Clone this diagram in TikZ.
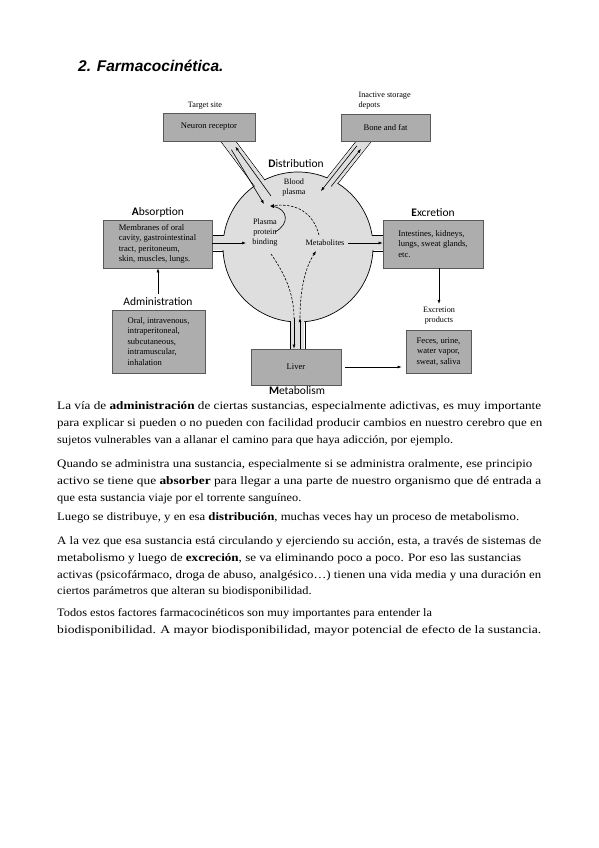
\documentclass[tikz,border=0pt]{standalone}
\usepackage{graphicx}
\usepackage{fontspec}
\setmainfont{Liberation Serif}
\newfontfamily\labelfont{Carlito}
\newfontfamily\headfont{Liberation Sans}
\newfontfamily\bodyfont{Liberation Serif}
\usetikzlibrary{arrows.meta, positioning, calc}
\definecolor{boxgray}{gray}{0.68}
\definecolor{discgray}{gray}{0.87}
\definecolor{edgegray}{gray}{0.35}

\begin{document}
\begin{tikzpicture}[
    x=1pt, y=-1pt,
    >={Latex[length=4pt, width=3pt]},
    organ/.style={draw=edgegray, fill=boxgray, line width=0.7pt, inner sep=0pt, align=left, font=\fontsize{8.6}{10.5}\selectfont},
    stage/.style={font=\labelfont\fontsize{11.5}{13}\selectfont},
    note/.style={font=\fontsize{8.2}{10}\selectfont, align=center},
    wall/.style={draw=black, line width=0.6pt},
    flow/.style={->, line width=0.6pt},
    route/.style={->, line width=0.6pt, dash pattern=on 2.5pt off 1.5pt},
    trail/.style={line width=0.6pt, dash pattern=on 2.5pt off 1.5pt},
    para/.style={anchor=base west, inner sep=0pt, font=\bodyfont\fontsize{11.4}{17}\selectfont},
]
\useasboundingbox (0,0) rectangle (599,848);

\node[anchor=base west, inner sep=0pt, font=\headfont\bfseries\itshape\fontsize{15.5}{18}\selectfont] (title) at (78,72) {2. Farmacocinética.};

\draw[wall] (218.4,138.2) -- (259.2,192.6);
\draw[wall] (228,131) -- (268.8,185.4);
\draw[wall] (364.3,131.0) -- (322.0,184.3);
\draw[wall] (373.7,138.4) -- (331.4,191.7);
\draw[wall] (200,235) -- (240,235) (200,251) -- (240,251);
\draw[wall] (356,235) -- (392,235) (356,251) -- (392,251);
\draw[wall] (290,300) -- (290,355) (305,300) -- (305,355);

\node[circle, draw=black, fill=discgray, line width=0.7pt, minimum size=150pt, inner sep=0pt] (plasma) at (298,247) {};

\fill[discgray] (227.6,131.3) -- (267.2,184.1) -- (258.4,190.7) -- (218.8,137.9) -- cycle;
\fill[discgray] (373.3,138.2) -- (333.5,188.2) -- (324.9,181.4) -- (364.7,131.3) -- cycle;
\fill[discgray] (200,235.6) rectangle (232,250.4);
\fill[discgray] (364,235.6) rectangle (392,250.4);
\fill[discgray] (290.6,314) rectangle (304.4,355);

\node[stage] (distlbl) at (296,164) {\textbf{D}istribution};
\node[note] (blood) at (294,188) {Blood\\plasma};
\node[note] (binding) at (265,233) {Plasma\\protein\\binding};
\node[note] (metab) at (325,243) {Metabolites};

\node[organ, minimum width=92pt, minimum height=28pt] (neuron) at (209,127) {Neuron receptor};
\node[organ, minimum width=89pt, minimum height=27pt] (bone) at (385.5,127.5) {Bone and fat};
\node[organ, minimum width=109pt, minimum height=48pt] (absorb) at (157.5,244) {Membranes of oral\\cavity, gastrointestinal\\tract, peritoneum,\\skin, muscles, lungs.};
\node[organ, minimum width=100pt, minimum height=48pt] (excrete) at (433,244) {Intestines, kidneys,\\lungs, sweat glands,\\etc.};
\node[organ, minimum width=93pt, minimum height=63pt] (admin) at (158.5,341.5) {Oral, intravenous,\\intraperitoneal,\\subcutaneous,\\intramuscular,\\inhalation};
\node[organ, align=center, minimum width=65pt, minimum height=43pt] (feces) at (438.5,351.5) {Feces, urine,\\water vapor,\\sweat, saliva};
\node[organ, minimum width=90pt, minimum height=36pt] (liver) at (296,367) {Liver};

\node[note] (targetlbl) at (205,106) {Target site};
\node[note, align=left, anchor=west] (depotlbl) at (355,101) {Inactive storage\\depots};
\node[stage] (abslbl) at (158,212) {\textbf{A}bsorption};
\node[stage] (exclbl) at (433,213) {\textbf{E}xcretion};
\node[stage] (adminlbl) at (158,302) {Administration};
\node[note] (prodlbl) at (439,316) {Excretion\\products};
\node[stage] (metablbl) at (297,391) {\textbf{M}etabolism};

\coordinate (absin) at (246,243);
\coordinate (nrfoot) at (231.4,149.7);
\coordinate (nrin) at (264,204);
\coordinate (nrout) at (271,196);
\coordinate (nrhead) at (235.4,146.7);
\coordinate (bnfoot) at (357,145.7);
\coordinate (bnin) at (320.9,191.1);
\coordinate (bnout) at (331.2,186.4);
\coordinate (bnhead) at (361,148.9);
\coordinate (freed) at (270,206);
\coordinate (dnjoin) at (294,318);
\coordinate (upjoin) at (300,318);

\draw[flow] (absorb.east |- absin) -- (absin);
\draw[flow] (metab.east) -- (excrete.west |- metab.east);
\draw[flow] (nrfoot) -- (nrin);
\draw[flow] (nrout) -- (nrhead);
\draw[flow] (bnfoot) -- (bnin);
\draw[flow] (bnout) -- (bnhead);
\draw[flow] (275,232) .. controls (290,224) and (288,209) .. (freed);
\draw[route] (319,235) .. controls (313,212) and (296,203) .. (freed);
\draw[trail] (271,254) .. controls (285,274) and (294,294) .. (dnjoin);
\draw[flow] (dnjoin) -- (dnjoin |- liver.north);
\draw[flow] (upjoin |- liver.north) -- (upjoin);
\draw[route] (upjoin) .. controls (300,290) and (305,268) .. (316,251);
\draw[flow] (adminlbl.north) -- (adminlbl.north |- absorb.south);
\draw[flow] (excrete.south -| prodlbl.north) -- (prodlbl.north);
\draw[flow, shorten <=4pt, shorten >=4pt] (liver.east) -- (liver.east -| feces.west);

\node[para] (par1a) at (57,409) {\resizebox{484pt}{\height}{La vía de \textbf{administración} de ciertas sustancias, especialmente adictivas, es muy importante}};
\node[para] (par1b) at (57,426) {\resizebox{485pt}{\height}{para explicar si pueden o no pueden con facilidad producir cambios en nuestro cerebro que en}};
\node[para] (par1c) at (57,443) {\scalebox{1.08}[1]{sujetos vulnerables van a allanar el camino para que haya adicción, por ejemplo.}};
\node[para] (par2a) at (57,467) {\resizebox{475pt}{\height}{Quando se administra una sustancia, especialmente si se administra oralmente, ese principio}};
\node[para] (par2b) at (57,484) {\resizebox{484pt}{\height}{activo se tiene que \textbf{absorber} para llegar a una parte de nuestro organismo que dé entrada a}};
\node[para] (par2c) at (57,501) {\scalebox{1.08}[1]{que esta sustancia viaje por el torrente sanguíneo.}};
\node[para] (par3a) at (57,520) {\resizebox{462pt}{\height}{Luego se distribuye, y en esa \textbf{distribución}, muchas veces hay un proceso de metabolismo.}};
\node[para] (par4a) at (57,544) {\resizebox{484pt}{\height}{A la vez que esa sustancia está circulando y ejerciendo su acción, esta, a través de sistemas de}};
\node[para] (par4b) at (57,561) {\resizebox{464pt}{\height}{metabolismo y luego de \textbf{excreción}, se va eliminando poco a poco. Por eso las sustancias}};
\node[para] (par4c) at (57,578) {\resizebox{484pt}{\height}{activas (psicofármaco, droga de abuso, analgésico…) tienen una vida media y una duración en}};
\node[para] (par4d) at (57,594) {\scalebox{1.08}[1]{ciertos parámetros que alteran su biodisponibilidad.}};
\node[para] (par5a) at (57,616) {\scalebox{1.08}[1]{Todos estos factores farmacocinéticos son muy importantes para entender la}};
\node[para] (par5b) at (57,633) {\resizebox{484pt}{\height}{biodisponibilidad. A mayor biodisponibilidad, mayor potencial de efecto de la sustancia.}};
\end{tikzpicture}
\end{document}
